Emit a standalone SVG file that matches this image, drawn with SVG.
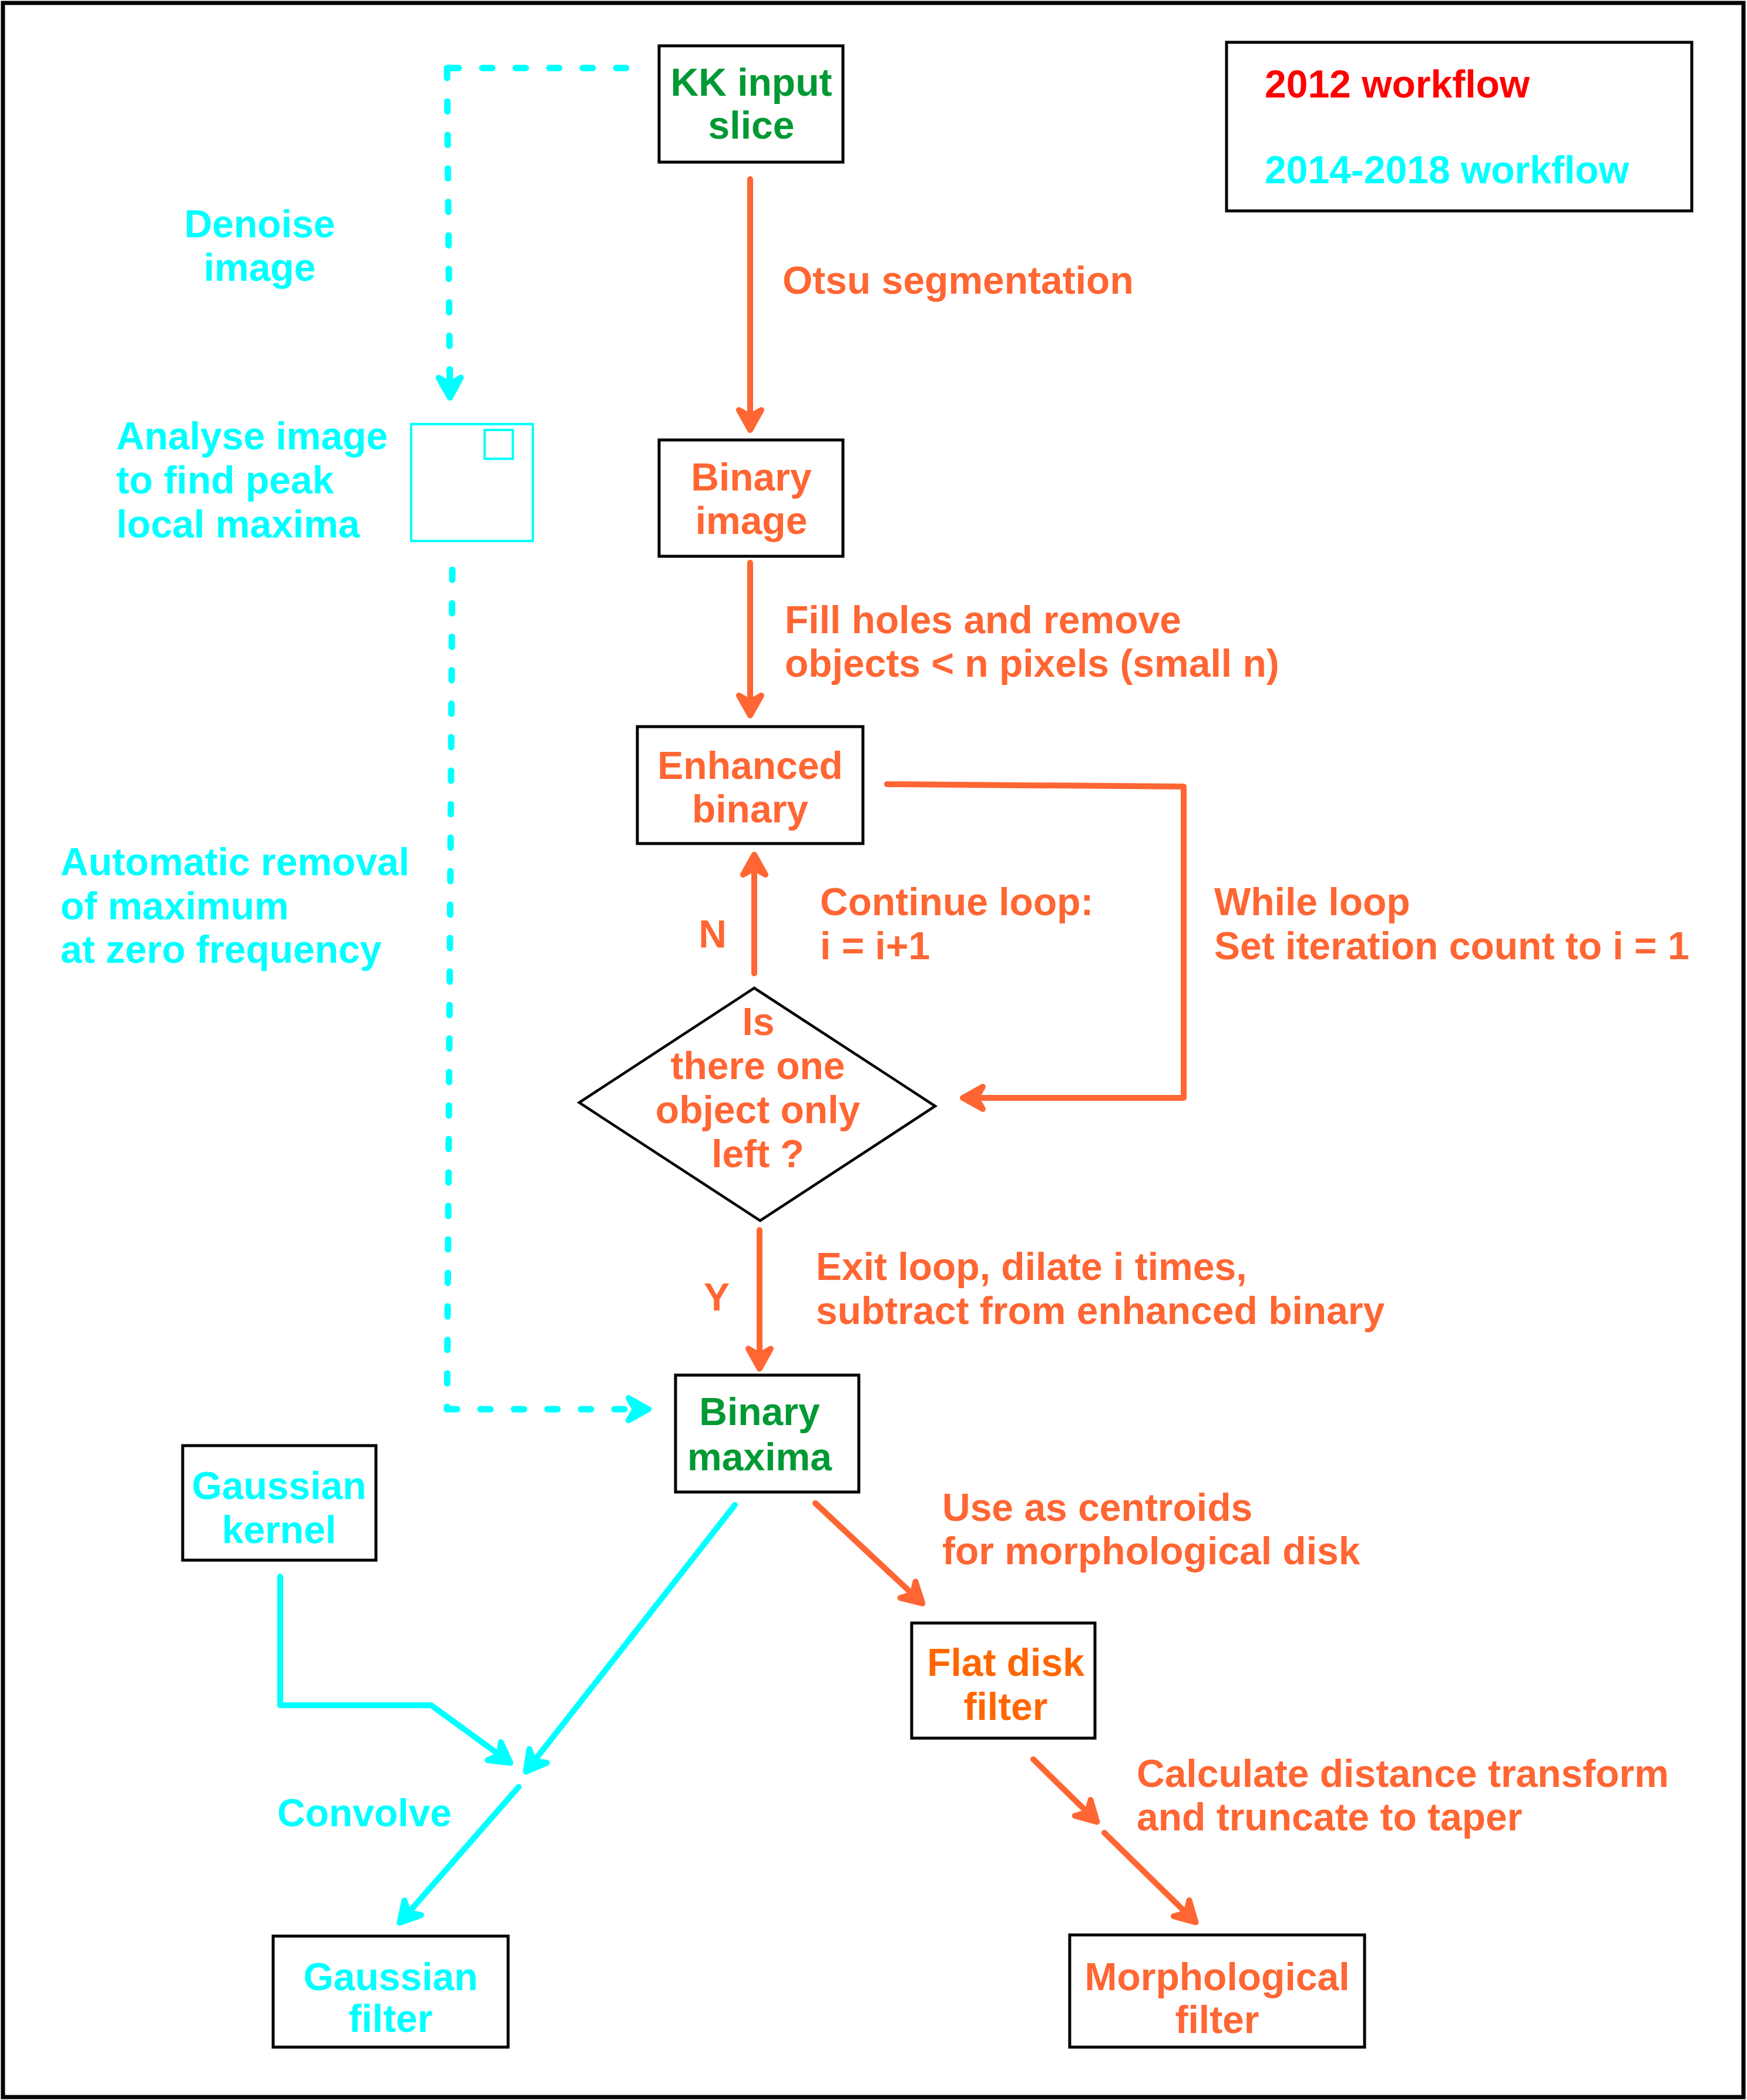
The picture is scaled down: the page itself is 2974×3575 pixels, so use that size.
<svg xmlns="http://www.w3.org/2000/svg" width="2974" height="3575" viewBox="0 0 2974 3575">
<style>
text{font-family:"Liberation Sans",Arial,sans-serif;font-weight:bold;font-size:66px}
.c{text-anchor:middle}
.or{fill:#ff6633}
.or2{fill:#ff6600}
.cy{fill:#00ffff}
.gr{fill:#009933}
.rd{fill:#ff0000}
.box{fill:none;stroke:#000;stroke-width:5}
.lo{fill:none;stroke:#ff6633;stroke-width:10;stroke-linecap:round;stroke-linejoin:round}
.lc{fill:none;stroke:#00ffff;stroke-width:10;stroke-linecap:round;stroke-linejoin:round}
.dash{stroke-dasharray:17 40;stroke-width:11}
</style>
<defs>
<marker id="ao" markerUnits="userSpaceOnUse" markerWidth="100" markerHeight="100" refX="0" refY="0" orient="auto" overflow="visible">
<path d="M5,0 L-29,-19 L-18,0 L-29,19 Z" fill="#ff6633" stroke="#ff6633" stroke-width="10" stroke-linejoin="round" stroke-dasharray="none"/>
</marker>
<marker id="ac" markerUnits="userSpaceOnUse" markerWidth="100" markerHeight="100" refX="0" refY="0" orient="auto" overflow="visible">
<path d="M5,0 L-29,-19 L-18,0 L-29,19 Z" fill="#00ffff" stroke="#00ffff" stroke-width="10" stroke-linejoin="round" stroke-dasharray="none"/>
</marker>
</defs>
<rect x="0" y="0" width="2974" height="3575" fill="#fff"/>
<rect id="frame" x="5" y="5" width="2963" height="3565" fill="none" stroke="#000" stroke-width="7"/>

<g id="legend">
<rect class="box" x="2088" y="72" width="792" height="287"/>
<text class="rd" x="2153" y="166">2012 workflow</text>
<text class="cy" x="2153" y="312">2014-2018 workflow</text>
</g>

<g id="connectors">
<path class="lo" d="M1277,305 L1277,727" marker-end="url(#ao)"/>
<path class="lo" d="M1277,958 L1277,1213" marker-end="url(#ao)"/>
<path class="lo" d="M1510,1335 L2015,1339 L2015,1869 L1644,1869" marker-end="url(#ao)"/>
<path class="lo" d="M1284,1657 L1284,1460" marker-end="url(#ao)"/>
<path class="lo" d="M1293,2094 L1293,2325" marker-end="url(#ao)"/>
<path class="lo" d="M1388,2559 L1566.7,2726.2" marker-end="url(#ao)"/>
<path class="lo" d="M1759,2995 L1863.9,3098" marker-end="url(#ao)"/>
<path class="lo" d="M1880,3120 L2031.9,3269" marker-end="url(#ao)"/>
<path class="lc dash" d="M1066,115.7 L761,115.7"/>
<path class="lc dash" d="M761,115.7 L765.9,672" marker-end="url(#ac)"/>
<path class="lc dash" d="M770,970 L761,2399"/>
<path class="lc dash" d="M761,2399 L1099,2399" marker-end="url(#ac)"/>
<path class="lc" d="M477,2684 L477,2903 L734,2903 L864.9,2998.1" marker-end="url(#ac)"/>
<path class="lc" d="M1251,2562 L898.2,3012.1" marker-end="url(#ac)"/>
<path class="lc" d="M883,3042 L683.6,3269.5" marker-end="url(#ac)"/>
</g>

<g id="edge-labels">
<text class="or" x="1332" y="500">Otsu segmentation</text>
<text class="cy c" x="442" y="404">Denoise</text>
<text class="cy c" x="442" y="478">image</text>
<text class="or" x="1336" y="1078">Fill holes and remove</text>
<text class="or" x="1336" y="1152">objects &lt; n pixels (small n)</text>
<text class="cy" x="103" y="1490">Automatic removal</text>
<text class="cy" x="103" y="1565">of maximum</text>
<text class="cy" x="103" y="1639">at zero frequency</text>
<text class="or c" x="1213" y="1613">N</text>
<text class="or" x="1396" y="1558">Continue loop:</text>
<text class="or" x="1396" y="1633">i = i+1</text>
<text class="or" x="2067" y="1558">While loop</text>
<text class="or" x="2067" y="1633">Set iteration count to i = 1</text>
<text class="or c" x="1220" y="2231">Y</text>
<text class="or" x="1389" y="2179">Exit loop, dilate i times,</text>
<text class="or" x="1389" y="2254">subtract from enhanced binary</text>
<text class="or" x="1604" y="2589">Use as centroids</text>
<text class="or" x="1604" y="2663">for morphological disk</text>
<text class="cy" x="472" y="3109">Convolve</text>
<text class="or" x="1935" y="3042">Calculate distance transform</text>
<text class="or" x="1935" y="3116">and truncate to taper</text>
</g>

<g id="kk-input">
<rect class="box" x="1122" y="78" width="313" height="198"/>
<text class="gr c" x="1279" y="163">KK input</text>
<text class="gr c" x="1279" y="236">slice</text>
</g>

<g id="analyse-image">
<text class="cy" x="198" y="765">Analyse image</text>
<text class="cy" x="198" y="840">to find peak</text>
<text class="cy" x="198" y="915">local maxima</text>
<rect x="700" y="722" width="207" height="199" fill="none" stroke="#00ffff" stroke-width="4"/>
<rect x="825" y="732" width="48" height="49" fill="none" stroke="#00ffff" stroke-width="4"/>
</g>

<g id="binary-image">
<rect class="box" x="1122" y="749" width="313" height="198"/>
<text class="or c" x="1279" y="835">Binary</text>
<text class="or c" x="1279" y="909">image</text>
</g>

<g id="enhanced-binary">
<rect class="box" x="1085" y="1237" width="384" height="199"/>
<text class="or c" x="1277" y="1326">Enhanced</text>
<text class="or c" x="1277" y="1400">binary</text>
</g>

<g id="decision">
<polygon points="1284,1682 1592,1883 1294,2078 986,1877" fill="none" stroke="#000" stroke-width="4.5" stroke-linejoin="miter"/>
<text class="or c" x="1291" y="1762">Is</text>
<text class="or c" x="1290" y="1837">there one</text>
<text class="or c" x="1290" y="1912">object only</text>
<text class="or c" x="1290" y="1987">left ?</text>
</g>

<g id="binary-maxima">
<rect class="box" x="1150" y="2341" width="312" height="199"/>
<text class="gr c" x="1293" y="2426">Binary</text>
<text class="gr c" x="1293" y="2503">maxima</text>
</g>

<g id="gaussian-kernel">
<rect class="box" x="311" y="2461" width="329" height="195"/>
<text class="cy c" x="475" y="2552">Gaussian</text>
<text class="cy c" x="475" y="2627">kernel</text>
</g>

<g id="flat-disk">
<rect class="box" x="1552" y="2763" width="312" height="196"/>
<text class="or2 c" x="1712" y="2853">Flat disk</text>
<text class="or2 c" x="1712" y="2928">filter</text>
</g>

<g id="gaussian-filter">
<rect class="box" x="465" y="3296" width="400" height="189"/>
<text class="cy c" x="665" y="3388">Gaussian</text>
<text class="cy c" x="665" y="3459">filter</text>
</g>

<g id="morphological-filter">
<rect class="box" x="1821" y="3294" width="502" height="191"/>
<text class="or c" x="2072" y="3388">Morphological</text>
<text class="or c" x="2072" y="3461">filter</text>
</g>
</svg>
